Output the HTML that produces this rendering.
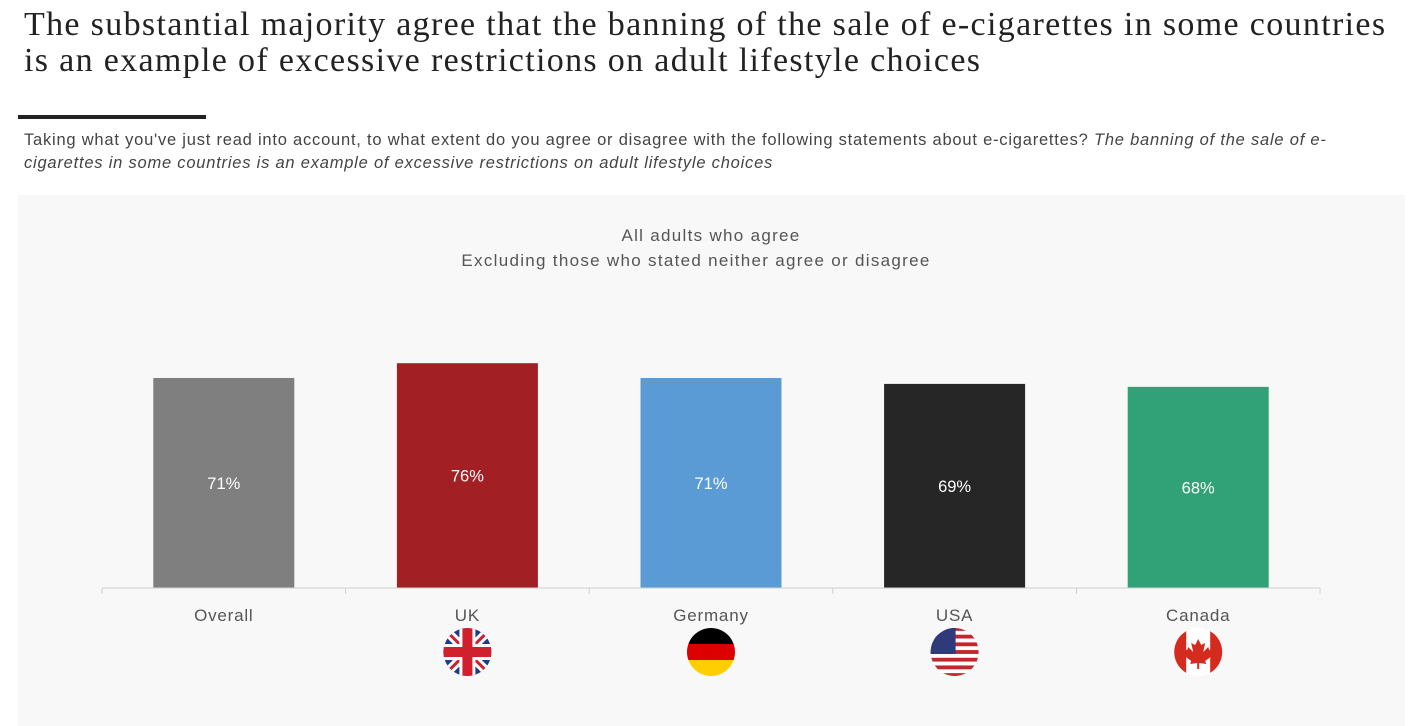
<!DOCTYPE html>
<html><head><meta charset="utf-8">
<style>
body{margin:0;width:1423px;height:726px;background:#fff;overflow:hidden;position:relative;font-family:"Liberation Sans",sans-serif}
#title{position:absolute;left:24px;top:7px;font-family:"Liberation Serif",serif;font-size:34px;line-height:36px;color:#222;white-space:nowrap;letter-spacing:1.33px}
#rule{position:absolute;left:18px;top:115px;width:188px;height:4px;background:#222}
#sub{position:absolute;left:24px;top:129px;font-size:16.5px;line-height:23px;color:#444;white-space:nowrap;letter-spacing:0.78px}
#panel{position:absolute;left:18px;top:195px;width:1387px;height:531px;background:#f8f8f8}
svg text{letter-spacing:0.8px}
</style></head><body>
<div id="title">The substantial majority agree that the banning of the sale of e-cigarettes in some countries<br>is an example of excessive restrictions on adult lifestyle choices</div>
<div id="rule"></div>
<div id="sub">Taking what you've just read into account, to what extent do you agree or disagree with the following statements about e-cigarettes? <i>The banning of the sale of e-</i><br><i>cigarettes in some countries is an example of excessive restrictions on adult lifestyle choices</i></div>
<div id="panel"></div>
<svg id="chart" width="1423" height="726" style="position:absolute;left:0;top:0">
<text x="711" y="241" text-anchor="middle" font-size="17" fill="#555" style="letter-spacing:1.3px">All adults who agree</text>
<text x="696" y="266" text-anchor="middle" font-size="17" fill="#555" style="letter-spacing:1.3px">Excluding those who stated neither agree or disagree</text>
<g id="marks"></g>
</svg>
<script>
const categories=["Overall","UK","Germany","USA","Canada"];
const values=[71,76,71,69,68];
const labels=["71%","76%","71%","69%","68%"];
const colors=["#7f7f7f","#a21f24","#5b9bd5","#262626","#31a277"];
const ns="http://www.w3.org/2000/svg";
const g=document.getElementById('marks');
const x0=102,step=243.6,baseY=588,pxPer=2.958,barW=141;
function xc(i){return x0+step*(i+0.5);}
function y(v){return baseY-v*pxPer;}
function mk(t,a){const e=document.createElementNS(ns,t);for(const k in a)e.setAttribute(k,a[k]);g.appendChild(e);return e;}
categories.forEach((c,i)=>{
 const r=mk('rect',{x:xc(i)-barW/2,y:y(values[i]),width:barW,height:baseY-y(values[i]),fill:colors[i]});
 
 
 const t=mk('text',{x:xc(i),y:(y(values[i])+baseY)/2+6,'text-anchor':'middle','font-size':16.5,fill:'#fff',style:'letter-spacing:0'});
 t.textContent=labels[i];
 
 
 const cl=mk('text',{x:xc(i),y:621,'text-anchor':'middle','font-size':17,fill:'#555'});
 cl.textContent=c;
 
 
});
const ax=mk('line',{x1:x0,x2:x0+step*5,y1:baseY,y2:baseY,stroke:'#d0d0d0','stroke-width':1});


for(let i=0;i<=5;i++){mk('line',{x1:x0+step*i,x2:x0+step*i,y1:baseY,y2:baseY+6,stroke:'#d0d0d0'});}
const defs=document.createElementNS(ns,'defs');g.appendChild(defs);
function clip(id,cx,cy){const cp=document.createElementNS(ns,'clipPath');cp.setAttribute('id',id);const c=document.createElementNS(ns,'circle');c.setAttribute('cx',cx);c.setAttribute('cy',cy);c.setAttribute('r',24);cp.appendChild(c);defs.appendChild(cp);}
function grp(id,name){const e=document.createElementNS(ns,'g');e.setAttribute('clip-path','url(#'+id+')');g.appendChild(e);
 
 
 return e;}
function add(p,t,a){const e=document.createElementNS(ns,t);for(const k in a)e.setAttribute(k,a[k]);p.appendChild(e);}
const fy=652;
let cx=xc(1);clip('cuk',cx,fy);let f=grp('cuk','flag-uk');
add(f,'rect',{x:cx-25,y:fy-25,width:50,height:50,fill:'#1f3a8a'});
add(f,'line',{x1:cx-25,y1:fy-25,x2:cx+25,y2:fy+25,stroke:'#fff','stroke-width':9});
add(f,'line',{x1:cx+25,y1:fy-25,x2:cx-25,y2:fy+25,stroke:'#fff','stroke-width':9});
add(f,'line',{x1:cx-25,y1:fy-25,x2:cx+25,y2:fy+25,stroke:'#d0202e','stroke-width':3});
add(f,'line',{x1:cx+25,y1:fy-25,x2:cx-25,y2:fy+25,stroke:'#d0202e','stroke-width':3});
add(f,'rect',{x:cx-8,y:fy-25,width:16,height:50,fill:'#fff'});
add(f,'rect',{x:cx-25,y:fy-8,width:50,height:16,fill:'#fff'});
add(f,'rect',{x:cx-25,y:fy-5,width:50,height:10,fill:'#d0202e'});
add(f,'rect',{x:cx-5,y:fy-25,width:10,height:50,fill:'#d0202e'});
cx=xc(2);clip('cde',cx,fy);f=grp('cde','flag-germany');
add(f,'rect',{x:cx-25,y:fy-25,width:50,height:17,fill:'#000'});
add(f,'rect',{x:cx-25,y:fy-8,width:50,height:16,fill:'#dd0000'});
add(f,'rect',{x:cx-25,y:fy+8,width:50,height:17,fill:'#ffce00'});
cx=xc(3);clip('cus',cx,fy);f=grp('cus','flag-usa');
for(let k=0;k<13;k++)add(f,'rect',{x:cx-25,y:fy-25+k*50/13,width:50,height:50/13+0.3,fill:k%2?'#fff':'#c0282d'});
add(f,'rect',{x:cx-25,y:fy-25,width:26,height:27,fill:'#2e3a7a'});
cx=xc(4);clip('cca',cx,fy);f=grp('cca','flag-canada');
add(f,'rect',{x:cx-25,y:fy-25,width:50,height:50,fill:'#fff'});
add(f,'rect',{x:cx-25,y:fy-25,width:13,height:50,fill:'#d52b1e'});
add(f,'rect',{x:cx+12,y:fy-25,width:13,height:50,fill:'#d52b1e'});
add(f,'path',{d:`M${cx} ${fy-13} l3 6 l4 -2 l-2 9 l5 -5 l1 3 l4 -1 l-2 5 l2 1 l-8 6 l1 3 l-7 -1 v6 h-2 v-6 l-7 1 l1 -3 l-8 -6 l2 -1 l-2 -5 l4 1 l1 -3 l5 5 l-2 -9 l4 2 z`,fill:'#d52b1e'});
</script>
</body></html>
